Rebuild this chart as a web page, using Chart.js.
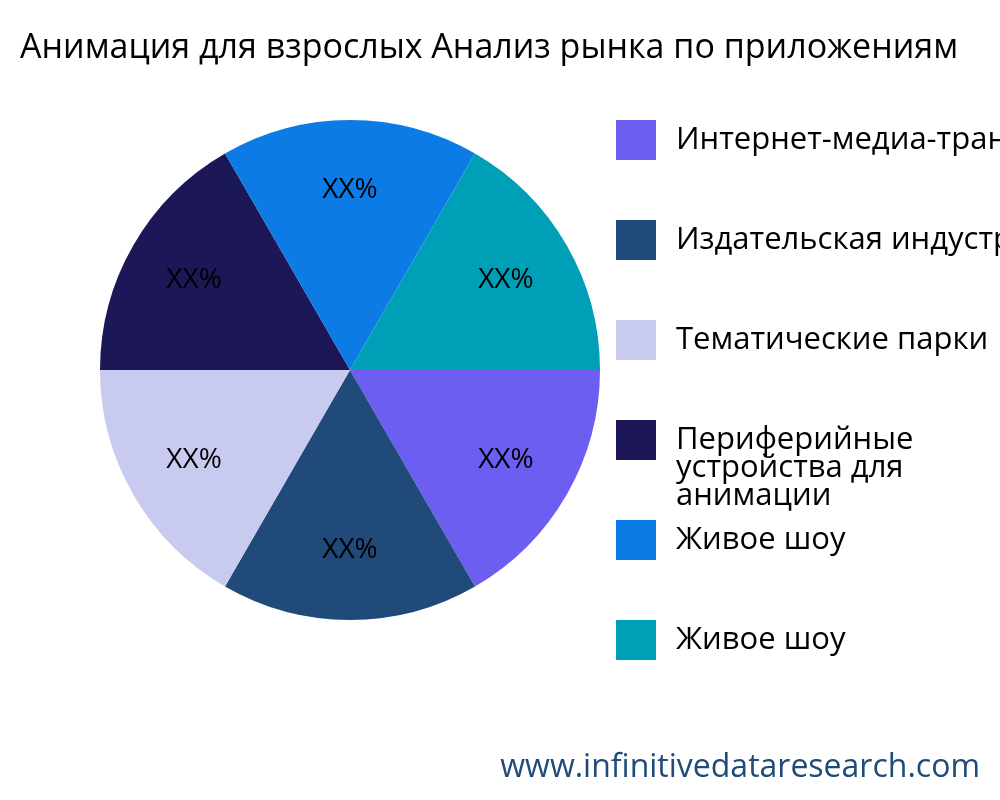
<!DOCTYPE html>
<html><head><meta charset="utf-8">
<script src="https://cdn.jsdelivr.net/npm/chart.js@4"></script>
<style>html,body{margin:0;padding:0;background:#fff;overflow:hidden}</style>
</head><body>
<div style="width:1000px;height:800px"><canvas id="c"></canvas></div>
<script>
const categories = ["Интернет-медиа-транспорт", "Издательская индустрия", "Тематические парки", "Периферийные устройства для анимации", "Живое шоу", "Живое шоу"];
const legendLines = [["Интернет-медиа-транспорт"], ["Издательская индустрия"], ["Тематические парки"], ["Периферийные", "устройства для", "анимации"], ["Живое шоу"], ["Живое шоу"]];
const values = [1, 1, 1, 1, 1, 1];
const sliceLabels = ["XX%", "XX%", "XX%", "XX%", "XX%", "XX%"];
const colors = ["#6C5EF0", "#1F4A7A", "#C9CAF0", "#1C1757", "#0C7BE6", "#009FB8"];
const titleText = "Анимация для взрослых Анализ рынка по приложениям";
const watermark = "www.infinitivedataresearch.com";
const F = "'Open Sans', 'Noto Sans', sans-serif";

const deco = {
  id: 'deco',
  afterDraw(chart) {
    const ctx = chart.ctx;
    ctx.save();
    const meta = chart.getDatasetMeta(0);
    ctx.font = "28px " + F; ctx.fillStyle = "#000"; ctx.textAlign = "center"; ctx.textBaseline = "middle";
    meta.data.forEach((arc, i) => {
      const p = arc.getProps(['x','y','startAngle','endAngle','outerRadius'], true);
      const a = (p.startAngle + p.endAngle) / 2, r = p.outerRadius * 0.72;
      ctx.fillText(sliceLabels[i], p.x + Math.cos(a) * r, p.y + Math.sin(a) * r);
    });
    ctx.textAlign = "left"; ctx.font = "34px " + F;
    ctx.fillText(titleText, 20, 48);
    ctx.font = "31px " + F;
    legendLines.forEach((lines, i) => {
      const top = 120 + i * 100;
      ctx.fillStyle = colors[i]; ctx.fillRect(616, top, 40, 40);
      ctx.fillStyle = "#000";
      const cy = top + 20, lh = 28;
      lines.forEach((t, j) => ctx.fillText(t, 676, cy + j * lh));
    });
    ctx.textAlign = "right"; ctx.fillStyle = "#1F4A7A"; ctx.font = "32px " + F;
    ctx.fillText(watermark, 980, 768);
    ctx.restore();
  }
};

new Chart(document.getElementById('c'), {
  type: 'pie',
  data: { labels: categories, datasets: [{ data: values, backgroundColor: colors, borderWidth: 0 }] },
  options: {
    responsive: true, maintainAspectRatio: false, animation: false,
    rotation: 90,
    layout: { padding: { left: 100, right: 400, top: 120, bottom: 180 } },
    plugins: { legend: { display: false }, title: { display: false }, tooltip: { enabled: false } }
  },
  plugins: [deco]
});
</script>
</body></html>
